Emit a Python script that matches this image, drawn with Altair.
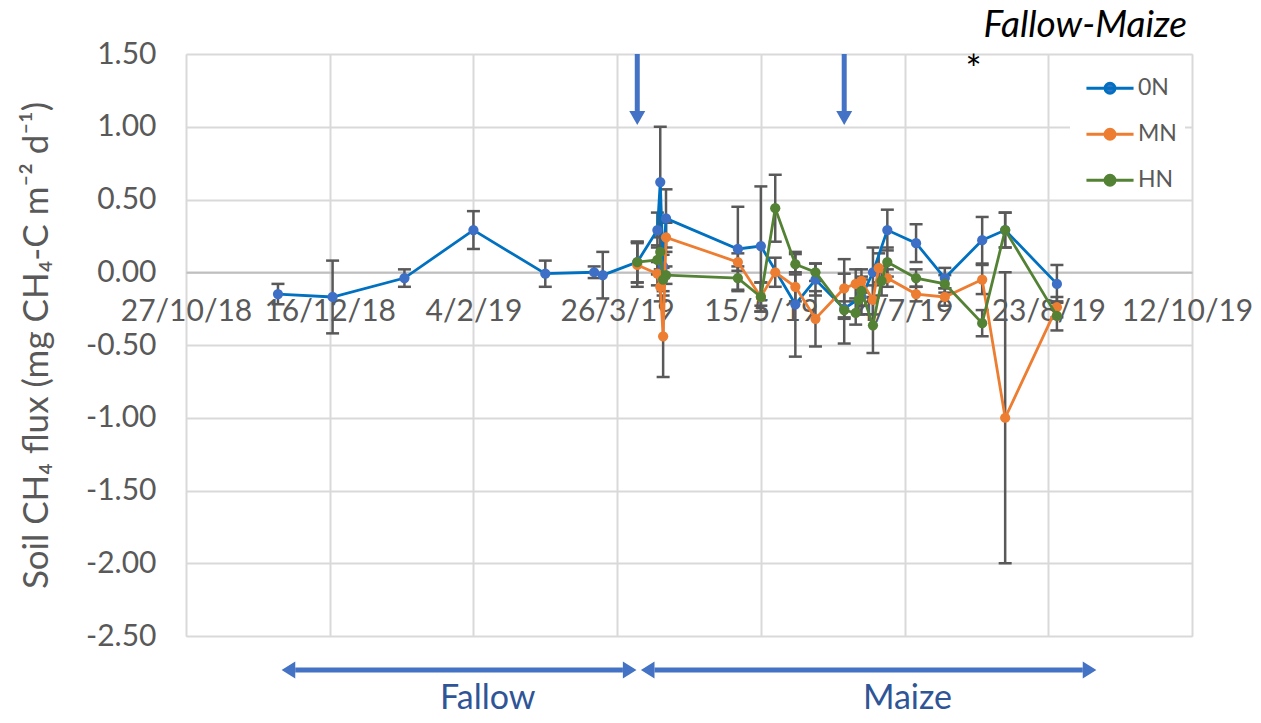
import altair as alt
import pandas as pd

# ---------------- data ----------------
series_names = ["0N", "MN", "HN"]
line_colors = ["#0070C0", "#ED7D31", "#548235"]
marker_colors = ["#3D6FC6", "#ED7D31", "#548235"]

dates_0N = ["2018-11-28", "2018-12-17", "2019-01-11", "2019-02-04", "2019-03-01",
            "2019-03-18", "2019-03-21", "2019-04-02", "2019-04-09", "2019-04-10",
            "2019-04-11", "2019-04-12", "2019-05-07", "2019-05-15", "2019-05-27",
            "2019-06-03", "2019-06-13", "2019-06-19", "2019-06-23", "2019-06-28",
            "2019-07-08", "2019-07-18", "2019-07-31", "2019-08-08", "2019-08-26"]
flux_0N = [-0.15, -0.17, -0.04, 0.29, -0.01, 0.00, -0.02, 0.07, 0.29, 0.62,
           0.04, 0.37, 0.16, 0.18, -0.22, -0.05, -0.25, -0.17, 0.00, 0.29,
           0.20, -0.04, 0.22, 0.29, -0.08]
err_0N = [0.07, 0.25, 0.06, 0.13, 0.09, 0.04, 0.16, 0.14, 0.12, 0.38,
          0.08, 0.20, 0.29, 0.41, 0.36, 0.11, 0.24, 0.12, 0.17, 0.14,
          0.13, 0.07, 0.16, 0.12, 0.13]

dates_MN = ["2019-04-02", "2019-04-09", "2019-04-10", "2019-04-11", "2019-04-12",
            "2019-05-07", "2019-05-15", "2019-05-20", "2019-05-27", "2019-06-03",
            "2019-06-13", "2019-06-17", "2019-06-19", "2019-06-23", "2019-06-25",
            "2019-06-28", "2019-07-08", "2019-07-18", "2019-07-31", "2019-08-08",
            "2019-08-26"]
flux_MN = [0.05, -0.01, -0.10, -0.44, 0.24, 0.07, -0.17, 0.00, -0.10, -0.32,
           -0.11, -0.08, -0.06, -0.19, 0.03, -0.04, -0.15, -0.17, -0.05, -1.00,
           -0.24]
err_MN = [0.15, 0.08, 0.10, 0.28, 0.10, 0.06, 0.10, 0.10, 0.10, 0.19,
          0.20, 0.10, 0.08, 0.10, 0.10, 0.06, 0.05, 0.06, 0.10, 1.00,
          0.07]

dates_HN = ["2019-04-02", "2019-04-09", "2019-04-10", "2019-04-11", "2019-04-12",
            "2019-05-07", "2019-05-15", "2019-05-20", "2019-05-27", "2019-06-03",
            "2019-06-13", "2019-06-17", "2019-06-18", "2019-06-19", "2019-06-23",
            "2019-06-26", "2019-06-28", "2019-07-08", "2019-07-18", "2019-07-31",
            "2019-08-08", "2019-08-26"]
flux_HN = [0.07, 0.085, 0.14, -0.05, -0.02, -0.04, -0.17, 0.44, 0.055, 0.00,
           -0.26, -0.28, -0.19, -0.13, -0.365, -0.06, 0.07, -0.04, -0.08, -0.35,
           0.29, -0.30]
err_HN = [0.14, 0.10, 0.12, 0.08, 0.06, 0.08, 0.10, 0.23, 0.07, 0.06,
          0.06, 0.08, 0.10, 0.10, 0.19, 0.10, 0.10, 0.06, 0.06, 0.09,
          0.12, 0.10]

x_tick_dates = [(2018, 10, 27), (2018, 12, 16), (2019, 2, 4), (2019, 3, 26),
                (2019, 5, 15), (2019, 7, 4), (2019, 8, 23), (2019, 10, 12)]
y_ticks = [-2.5, -2.0, -1.5, -1.0, -0.5, 0.0, 0.5, 1.0, 1.5]

# annotations
event_dates = ["2019-04-02", "2019-06-13"]          # blue down arrows
period_names = ["Fallow", "Maize"]
period_start = ["2018-12-04", "2019-04-08"]
period_end = ["2019-03-28", "2019-09-04"]
period_label_dates = ["2019-02-09", "2019-07-05"]
star_date = ["2019-07-28"]

# ---------------- frames ----------------
rows = []
for name, ds, vs, es in [("0N", dates_0N, flux_0N, err_0N),
                         ("MN", dates_MN, flux_MN, err_MN),
                         ("HN", dates_HN, flux_HN, err_HN)]:
    for d, v, e in zip(ds, vs, es):
        rows.append({"series": name, "date": d, "flux": v,
                     "lo": round(v - e, 3), "hi": round(v + e, 3)})
df = pd.DataFrame(rows)

FONT = "Lato"
GRAY = "#595959"
ARROW = "#4472C4"
W, H = 1006, 582
Y_MIN, Y_MAX = -2.5, 1.5
zero_px = H * (Y_MAX - 0) / (Y_MAX - Y_MIN)

xscale = alt.Scale(type="utc", domain=[alt.DateTime(year=2018, month=10, date=27, utc=True),
                                       alt.DateTime(year=2019, month=10, date=12, utc=True)])
yscale = alt.Scale(domain=[Y_MIN, Y_MAX], nice=False, zero=False)

xaxis = alt.Axis(
    title=None,
    values=[alt.DateTime(year=a, month=b, date=c, utc=True) for a, b, c in x_tick_dates],
    format="%-d/%-m/%y", labelFont=FONT, labelFontSize=30, labelColor=GRAY,
    labelPadding=24, labelFlush=False, labelOverlap=False, ticks=False,
    labelOffset={"condition": {"test": "datum.value > 1570000000000", "value": -5}, "value": 0},
    domain=True, domainColor="#BFBFBF", domainWidth=2,
    grid=True, gridColor="#D9D9D9", gridWidth=2,
    offset=-(H - zero_px),
)
ytitle = "Soil CH\u2084 flux (mg CH\u2084-C m\u207b\u00b2 d\u207b\u00b9)"
yaxis = alt.Axis(
    title=ytitle, values=y_ticks,
    labelExpr="(datum.value < 0 ? '-' : '') + format(abs(datum.value), '.2f')",
    labelFont=FONT, labelFontSize=30, labelColor=GRAY, labelPadding=30,
    ticks=False, domain=False, grid=True, gridColor="#D9D9D9", gridWidth=2,
    titleFont=FONT, titleFontSize=35, titleFontWeight="normal", titleColor=GRAY,
    titlePadding=31,
)

X = alt.X("date:T", scale=xscale, axis=xaxis)
LEG_PATH = "M-1.57,0L1.57,0M-0.33,0A0.33,0.33,0,1,1,0.33,0A0.33,0.33,0,1,1,-0.33,0Z"
leg = alt.Legend(title=None, orient="none", legendX=907.5, legendY=17.7,
                 symbolType=LEG_PATH, symbolSize=900, symbolStrokeWidth=3,
                 labelFont=FONT, labelFontSize=23, labelColor=GRAY,
                 labelOffset=11.5, rowPadding=17, padding=0, direction="vertical")
stroke_scale = alt.Scale(domain=series_names, range=line_colors)
fill_scale = alt.Scale(domain=series_names, range=marker_colors)

base = alt.Chart(df)

# white legend background covering the gridline
legend_bg = alt.Chart(pd.DataFrame({"k": [0]})).mark_rect(color="white").encode(
    x=alt.value(884), x2=alt.value(999), y=alt.value(9), y2=alt.value(143))

err_rule = base.mark_rule(color=GRAY, strokeWidth=2.5).encode(
    x=X, y=alt.Y("lo:Q", scale=yscale, axis=yaxis), y2="hi:Q")
cap_lo = base.mark_tick(orient="horizontal", color=GRAY, size=13, thickness=2.5, opacity=1).encode(
    x=X, y=alt.Y("lo:Q", scale=yscale, axis=yaxis))
cap_hi = base.mark_tick(orient="horizontal", color=GRAY, size=13, thickness=2.5, opacity=1).encode(
    x=X, y=alt.Y("hi:Q", scale=yscale, axis=yaxis))

series_layers = []
for name in series_names:
    sub = base.transform_filter(alt.datum.series == name)
    series_layers.append(sub.mark_line(strokeWidth=2.8).encode(
        x=X, y=alt.Y("flux:Q", scale=yscale, axis=yaxis),
        stroke=alt.Stroke("series:N", scale=stroke_scale, legend=leg)))
    series_layers.append(sub.mark_circle(size=105, opacity=1).encode(
        x=X, y=alt.Y("flux:Q", scale=yscale, axis=yaxis),
        fill=alt.Fill("series:N", scale=fill_scale, legend=leg)))

# blue down arrows at top
ev = pd.DataFrame({"date": event_dates, "top": [Y_MAX] * len(event_dates), "end": [1.108] * len(event_dates)})
ev_shaft = alt.Chart(ev).mark_rule(color=ARROW, strokeWidth=5).encode(
    x=X, y=alt.Y("top:Q", scale=yscale, axis=yaxis), y2="end:Q")
ev_head = alt.Chart(ev).mark_point(shape="M-1,0L1,0L0,1.75Z", filled=True, size=256,
                                   color=ARROW, opacity=1).encode(
    x=X, y=alt.Y("end:Q", scale=yscale, axis=yaxis))

# period arrows below the plot
pr = pd.DataFrame({"name": period_names, "start": period_start, "end": period_end,
                   "mid": period_label_dates})
PY = 616
pr_shaft = alt.Chart(pr).mark_rule(color=ARROW, strokeWidth=5).encode(
    x=alt.X("start:T", scale=xscale, axis=xaxis), x2="end:T", y=alt.value(PY))
pr_head_l = alt.Chart(pr).mark_point(shape="M-1.6,0L0,-1L0,1Z", filled=True, size=289,
                                     color=ARROW, opacity=1).encode(
    x=alt.X("start:T", scale=xscale, axis=xaxis), y=alt.value(PY))
pr_head_r = alt.Chart(pr).mark_point(shape="M1.6,0L0,-1L0,1Z", filled=True, size=289,
                                     color=ARROW, opacity=1).encode(
    x=alt.X("end:T", scale=xscale, axis=xaxis), y=alt.value(PY))
pr_text = alt.Chart(pr).mark_text(font=FONT, fontSize=34, color="#2F5597",
                                  baseline="alphabetic", align="center").encode(
    x=alt.X("mid:T", scale=xscale, axis=xaxis), y=alt.value(655), text="name:N")

# panel label and asterisk
title_txt = alt.Chart(pd.DataFrame({"t": ["Fallow-Maize"]})).mark_text(
    font=FONT, fontSize=37, fontStyle="italic", color="black", align="right",
    baseline="alphabetic").encode(x=alt.value(1001), y=alt.value(-17), text="t:N")
star = alt.Chart(pd.DataFrame({"date": star_date, "v": [1.30], "t": ["*"]})).mark_text(
    font=FONT, fontSize=38, color="black", baseline="alphabetic", align="center").encode(
    x=X, y=alt.Y("v:Q", scale=yscale, axis=yaxis), text="t:N")

chart = alt.layer(
    legend_bg, err_rule, cap_lo, cap_hi, *series_layers,
    ev_shaft, ev_head, pr_shaft, pr_head_l, pr_head_r, pr_text, title_txt, star
).properties(
    width=W, height=H,
    autosize=alt.AutoSizeParams(type="none"),
    padding={"left": 178, "top": 46, "right": 61, "bottom": 79},
).configure_view(stroke="#D9D9D9", strokeWidth=2).configure(background="white")

chart.save("out.html", embed_options={"renderer": "svg", "actions": False})
